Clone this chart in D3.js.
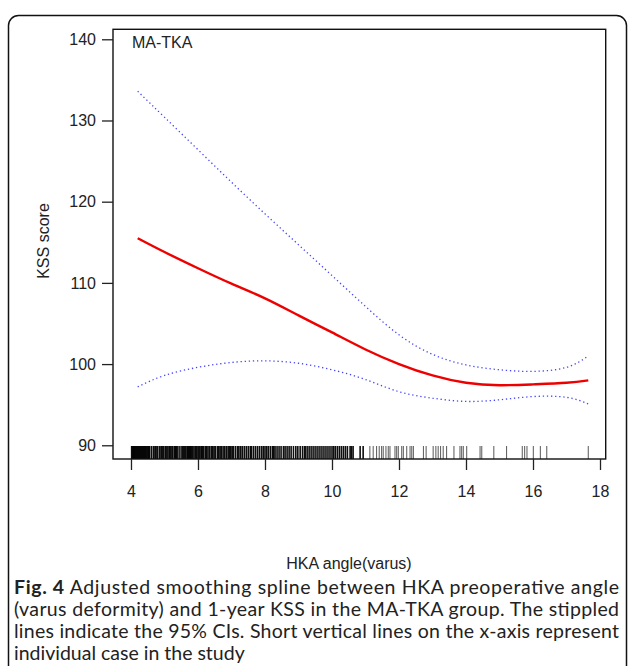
<!DOCTYPE html>
<html>
<head>
<meta charset="utf-8">
<script src="https://cdn.jsdelivr.net/npm/d3@7"></script>
<style>
  html, body { margin: 0; padding: 0; background: #fff; }
  svg { display: block; }
</style>
</head>
<body>
<div id="chart"></div>
<script>
// spline fit and 95% CI
const splineX = [4.2, 5, 6, 7, 8, 9, 10, 11, 12, 13, 14, 15, 16, 17, 17.65]
const fitY    = [115.5, 113.8, 111.8, 109.9, 108.1, 106.0, 103.9, 101.8, 100.0, 98.6, 97.7, 97.4, 97.5, 97.7, 98.0]
const upperY  = [133.6, 130.4, 126.4, 122.4, 118.5, 114.7, 110.9, 107.1, 103.6, 101.2, 99.9, 99.3, 99.1, 99.6, 101.0]
const lowerY  = [97.2, 98.6, 99.6, 100.2, 100.4, 100.1, 99.3, 98.1, 96.6, 95.8, 95.4, 95.6, 96.0, 95.9, 95.1]

// individual cases (rug)
const cases = [
  4.02, 4.05, 4.08, 4.1, 4.13, 4.16, 4.19, 4.22, 4.25, 4.28, 4.31, 4.34, 4.37, 4.4, 4.43, 4.46, 4.5, 4.53, 4.56,
  4.62, 4.68, 4.72, 4.75, 4.8, 4.86, 4.9, 4.93, 4.97,
  5.02, 5.05, 5.1, 5.14, 5.17, 5.22, 5.25, 5.3, 5.33, 5.36, 5.4, 5.46, 5.52, 5.55, 5.58, 5.61, 5.64, 5.68,
  5.71, 5.74, 5.77, 5.8, 5.84, 5.88, 5.92, 5.96,
  6.0, 6.03, 6.06, 6.1, 6.13, 6.17, 6.22, 6.26, 6.3, 6.35, 6.4, 6.44, 6.48, 6.52, 6.58, 6.62, 6.66, 6.7,
  6.75, 6.8, 6.85, 6.9, 6.94, 6.98,
  7.02, 7.06, 7.12, 7.18, 7.22, 7.27, 7.32, 7.38, 7.44, 7.5, 7.56, 7.6, 7.66, 7.72, 7.78, 7.84, 7.9, 7.95,
  8.0, 8.05, 8.1, 8.16, 8.22, 8.26, 8.3, 8.36, 8.42, 8.48, 8.55, 8.6, 8.66, 8.72, 8.78, 8.85, 8.92, 8.98,
  9.05, 9.12, 9.18, 9.22, 9.28, 9.34, 9.4, 9.46, 9.52, 9.58, 9.64, 9.7, 9.76, 9.82, 9.88, 9.94,
  10.0, 10.05, 10.1, 10.16, 10.22, 10.28, 10.34, 10.4, 10.46, 10.54, 10.58, 10.63, 10.84, 10.93,
  11.13, 11.23, 11.33, 11.41, 11.48, 11.53, 11.61, 11.68, 11.73, 11.88, 11.93, 11.98,
  12.08, 12.13, 12.23, 12.33, 12.38, 12.43, 12.73, 12.81,
  13.02, 13.1, 13.17, 13.24, 13.32, 13.42, 13.64, 13.82, 13.87, 13.92,
  14.02, 14.42, 14.47, 14.83, 15.21, 15.68, 15.75, 15.82, 16.01, 16.22, 16.41, 17.65
]

const yTicks = [90, 100, 110, 120, 130, 140]
const xTicks = [4, 6, 8, 10, 12, 14, 16, 18]

const captionLines = [
  ["Fig. 4", " Adjusted smoothing spline between HKA preoperative angle"],
  ["", "(varus deformity) and 1-year KSS in the MA-TKA group. The stippled"],
  ["", "lines indicate the 95% CIs. Short vertical lines on the x-axis represent"],
  ["", "individual case in the study"]
]

const width = 630, height = 666
const box = { left: 113, right: 605.7, top: 29.3, bottom: 459 }
const axisFont = "'Liberation Sans', Arial, Helvetica, sans-serif"

const svg = d3.select("#chart").append("svg")
  .attr("width", width)
  .attr("height", height)

// rounded frame of the figure panel
svg.append("rect")
  .attr("x", 8.5).attr("y", 15.5)
  .attr("width", 618).attr("height", 720)
  .attr("rx", 10)
  .attr("fill", "none")
  .attr("stroke", "#111")
  .attr("stroke-width", 1.5)

const x = d3.scaleLinear().domain([3.463, 18.17]).range([box.left, box.right])
const y = d3.scaleLinear().domain([88.31, 141.23]).range([box.bottom, box.top])

/* ------- RUG -------*/
svg.append("g").attr("class", "rug")
  .selectAll("line")
  .data(cases)
  .join("line")
    .attr("x1", d => x(d)).attr("x2", d => x(d))
    .attr("y1", box.bottom).attr("y2", box.bottom - 13)
    .attr("stroke", "#000")
    .attr("stroke-width", d => d < 11 ? 1.6 : 1.1)
    .attr("stroke-opacity", d => d < 11 ? 0.95 : 0.6)

/* ------- CURVES -------*/
const pts = ys => splineX.map((v, i) => [v, ys[i]])
const line = d3.line()
  .x(d => x(d[0]))
  .y(d => y(d[1]))
  .curve(d3.curveNatural)

svg.append("path")
  .attr("d", line(pts(upperY)))
  .attr("fill", "none")
  .attr("stroke", "#4444ff")
  .attr("stroke-width", 1.3)
  .attr("stroke-dasharray", "1.3,2.8")

svg.append("path")
  .attr("d", line(pts(lowerY)))
  .attr("fill", "none")
  .attr("stroke", "#4444ff")
  .attr("stroke-width", 1.3)
  .attr("stroke-dasharray", "1.3,2.8")

svg.append("path")
  .attr("d", line(pts(fitY)))
  .attr("fill", "none")
  .attr("stroke", "#ee0000")
  .attr("stroke-width", 2.4)

/* ------- BOX + AXES -------*/
svg.append("rect")
  .attr("x", box.left).attr("y", box.top)
  .attr("width", box.right - box.left)
  .attr("height", box.bottom - box.top)
  .attr("fill", "none")
  .attr("stroke", "#111")
  .attr("stroke-width", 1.4)

const yAxis = svg.append("g")
  .attr("transform", `translate(${box.left},0)`)
  .call(d3.axisLeft(y).tickValues(yTicks).tickSize(11).tickPadding(6))
yAxis.select(".domain").remove()

const xAxis = svg.append("g")
  .attr("transform", `translate(0,${box.bottom})`)
  .call(d3.axisBottom(x).tickValues(xTicks).tickSize(11).tickPadding(16))
xAxis.select(".domain").remove()

svg.selectAll(".tick line").attr("stroke", "#222").attr("stroke-width", 1.3)
svg.selectAll(".tick text")
  .attr("fill", "#222")
  .style("font-family", axisFont)
  .style("font-size", "16px")

svg.append("text")
  .attr("x", 132).attr("y", 48)
  .style("font-family", axisFont)
  .style("font-size", "16px")
  .attr("fill", "#222")
  .text("MA-TKA")

svg.append("text")
  .attr("transform", "translate(49,241) rotate(-90)")
  .attr("text-anchor", "middle")
  .style("font-family", axisFont)
  .style("font-size", "16px")
  .attr("fill", "#222")
  .text("KSS score")

svg.append("text")
  .attr("x", 349).attr("y", 569)
  .attr("text-anchor", "middle")
  .style("font-family", axisFont)
  .style("font-size", "16px")
  .attr("fill", "#222")
  .text("HKA angle(varus)")

/* ------- CAPTION (justified, last line ragged) -------*/
const cap = svg.append("g").attr("class", "caption")
captionLines.forEach((parts, i) => {
  const t = cap.append("text")
    .attr("x", 14)
    .attr("y", 594 + i * 22)
    .style("font-family", "Lato, 'Open Sans', sans-serif")
    .style("font-size", "19.5px")
    .attr("fill", "#222")
  if (i < captionLines.length - 1) t.attr("textLength", 605).attr("lengthAdjust", "spacing")
  if (parts[0]) t.append("tspan").style("font-weight", "bold").text(parts[0])
  t.append("tspan").text(parts[1])
})
</script>
</body>
</html>
